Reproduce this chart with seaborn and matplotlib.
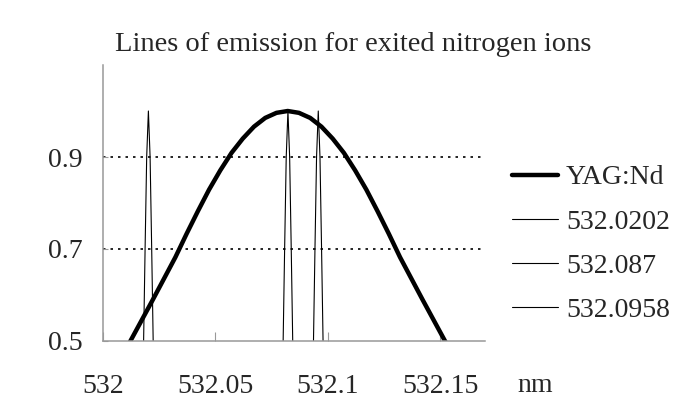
import matplotlib
matplotlib.use('Agg')
import matplotlib.pyplot as plt
import seaborn as sns

# broad YAG:Nd laser line (0.005 nm steps around the peak)
yag_x = [532.0022, 532.0072, 532.0122, 532.0172, 532.0222, 532.0272, 532.0322,
         532.0372, 532.0422, 532.0472, 532.0522, 532.0572, 532.0622, 532.0672,
         532.0722, 532.0772, 532.0822, 532.0872, 532.0922, 532.0972, 532.1022,
         532.1072, 532.1122, 532.1172, 532.1222, 532.1272, 532.1322, 532.1372,
         532.1422, 532.1472, 532.1522, 532.1572, 532.1622]
yag_y = [0.41, 0.455, 0.500, 0.545, 0.590, 0.636, 0.682, 0.733, 0.782, 0.829,
         0.871, 0.909, 0.940, 0.966, 0.985, 0.996, 1.000, 0.996, 0.985, 0.966,
         0.940, 0.909, 0.871, 0.829, 0.782, 0.733, 0.682, 0.636, 0.590, 0.545,
         0.500, 0.455, 0.41]

# narrow nitrogen lines: centres and the spike profile
line_labels = ['532.0202', '532.087', '532.0958']
line_centres = [532.0202, 532.0823, 532.0958]
spike_dx = [-0.0026, -0.00213, -0.00147, -0.00076, 0.0, 0.00076, 0.00147, 0.00213, 0.0026]
spike_y = [0.40, 0.50, 0.70, 0.90, 1.00, 0.90, 0.70, 0.50, 0.40]

x_ticks = [532, 532.05, 532.1, 532.15]
x_ticklabels = ['532', '532.05', '532.1', '532.15']
y_ticks = [0.5, 0.7, 0.9]
y_ticklabels = ['0.5', '0.7', '0.9']

sns.set_theme(style='white')
plt.rcParams['font.family'] = ['Liberation Serif', 'DejaVu Serif']

fig = plt.figure(figsize=(6.73, 4.07), dpi=100)
ax = fig.add_axes([103 / 673, 1 - 341 / 407, 382 / 673, 276 / 407])

sns.lineplot(x=yag_x, y=yag_y, color='black', lw=3.2, ax=ax, label='YAG:Nd',
             estimator=None, sort=False)
for lab, c in zip(line_labels, line_centres):
    sx = [c + d for d in spike_dx]
    sns.lineplot(x=sx, y=spike_y, color='black', lw=0.8, ax=ax, label=lab,
                 estimator=None, sort=False)

ax.set_xlim(532, 532.17)
ax.set_ylim(0.5, 1.1)
ax.set_xticks(x_ticks)
ax.set_xticklabels(x_ticklabels)
ax.set_yticks(y_ticks)
ax.set_yticklabels(y_ticklabels)
ax.tick_params(axis='x', bottom=True, direction='in', length=6.5, width=0.8,
               color='#999999', labelsize=20, pad=24)
ax.tick_params(axis='y', left=True, direction='in', length=3.5, width=0.8,
               color='#999999', labelsize=20, pad=15)
ax.set_xlabel('')
ax.set_ylabel('')

ax.grid(axis='y', color='black', linestyle=(0, (1.5, 3)), linewidth=1.2)
ax.get_ygridlines()[0].set_visible(False)
ax.grid(axis='x', visible=False)

for s in ['top', 'right']:
    ax.spines[s].set_visible(False)
for s in ['left', 'bottom']:
    ax.spines[s].set_color('#999999')
    ax.spines[s].set_linewidth(1.1)

fig.text(115 / 673, 1 - 51 / 407, 'Lines of emission for exited nitrogen ions',
         fontsize=20.5, ha='left', va='baseline')
fig.text(517 / 673, 1 - 392 / 407, 'nm', fontsize=20, ha='left', va='baseline')

ax.legend(loc='upper left', bbox_to_anchor=(512 / 673, 1 - 165 / 407),
          bbox_transform=fig.transFigure, frameon=False, fontsize=20,
          handlelength=1.65, handletextpad=0.3, labelspacing=0.67,
          borderaxespad=0, borderpad=0)

fig.savefig('out.png', dpi=100)
